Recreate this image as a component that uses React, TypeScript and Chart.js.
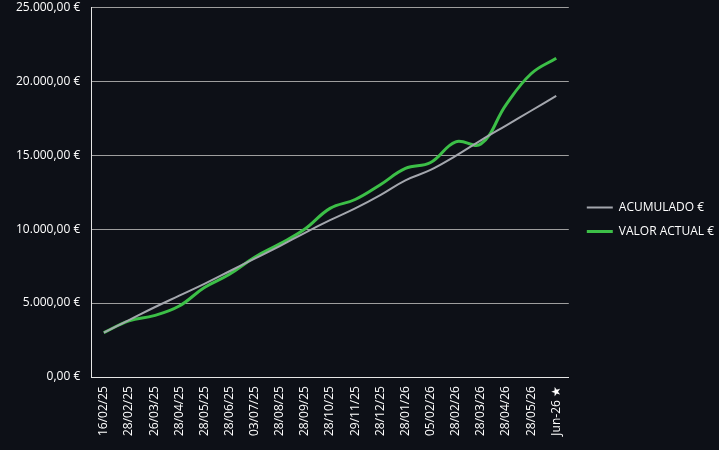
import React, { useEffect, useRef } from "react";
import { Chart, registerables } from "chart.js";

Chart.register(...registerables);

const categories = [
  "16/02/25", "28/02/25", "26/03/25", "28/04/25", "28/05/25", "28/06/25",
  "03/07/25", "28/08/25", "28/09/25", "28/10/25", "29/11/25", "28/12/25",
  "28/01/26", "05/02/26", "28/02/26", "28/03/26", "28/04/26", "28/05/26", "Jun-26 ★",
];

const acumulado = [
  3000, 3850, 4700, 5500, 6300, 7150, 8000, 8850, 9750, 10600,
  11400, 12300, 13300, 14000, 14950, 16000, 17000, 18000, 19000,
];

const valorActual = [
  3000, 3800, 4150, 4800, 6050, 6950, 8100, 9000, 10000, 11400,
  12000, 13000, 14100, 14500, 15900, 15750, 18400, 20500, 21550,
];

const fmt = (v: number) =>
  v.toLocaleString("de-DE", { minimumFractionDigits: 2, maximumFractionDigits: 2 }) + " €";

const legendShift = {
  id: "legendShift",
  afterLayout(chart: any) {
    if (chart.legend) {
      chart.legend.left += 6;
      chart.legend.right += 6;
      chart.legend.top -= 3;
      chart.legend.bottom -= 3;
    }
  },
};

export default function App() {
  const ref = useRef<HTMLCanvasElement | null>(null);
  useEffect(() => {
    if (!ref.current) return;
    const font = { family: "'Open Sans', sans-serif", size: 12 };
    const chart = new Chart(ref.current, {
      type: "line",
      data: {
        labels: categories,
        datasets: [
          {
            label: "ACUMULADO €",
            data: acumulado,
            borderColor: "#a3a6ad",
            backgroundColor: "#a3a6ad",
            borderWidth: 2,
            pointRadius: 0,
            tension: 0.4,
          },
          {
            label: "VALOR ACTUAL €",
            data: valorActual,
            borderColor: "#3cbf47",
            backgroundColor: "#3cbf47",
            borderWidth: 3,
            pointRadius: 0,
            tension: 0.4,
          },
        ],
      },
      options: {
        animation: false,
        responsive: false,
        layout: { padding: { left: 16, right: 1, top: 0, bottom: 5 } },
        plugins: {
          legend: {
            position: "right",
            labels: {
              color: "#ffffff",
              font,
              usePointStyle: true,
              pointStyle: "line",
              pointStyleWidth: 26,
              padding: 12,
            },
          },
          tooltip: { enabled: false },
        },
        scales: {
          x: {
            offset: true,
            grid: { display: false, drawTicks: false },
            border: { color: "#e6e6e6", width: 1 },
            ticks: {
              color: "#ffffff",
              font,
              maxRotation: 90,
              minRotation: 90,
              autoSkip: false,
              padding: 9,
            },
          },
          y: {
            min: 0,
            max: 25000,
            grid: { color: "#9e9e9e", drawTicks: true, tickLength: 11, tickColor: "rgba(0,0,0,0)" },
            border: { color: "#e6e6e6", width: 1 },
            ticks: {
              color: "#ffffff",
              font,
              stepSize: 5000,
              padding: 0,
              callback: (v: any) => fmt(Number(v)),
            },
          },
        },
      },
      plugins: [legendShift],
    });
    return () => chart.destroy();
  }, []);
  return (
    <div style={{ position: "fixed", left: 0, top: 0, width: 719, height: 450, background: "#0d1017" }}>
      <canvas ref={ref} width={719} height={450} />
    </div>
  );
}
